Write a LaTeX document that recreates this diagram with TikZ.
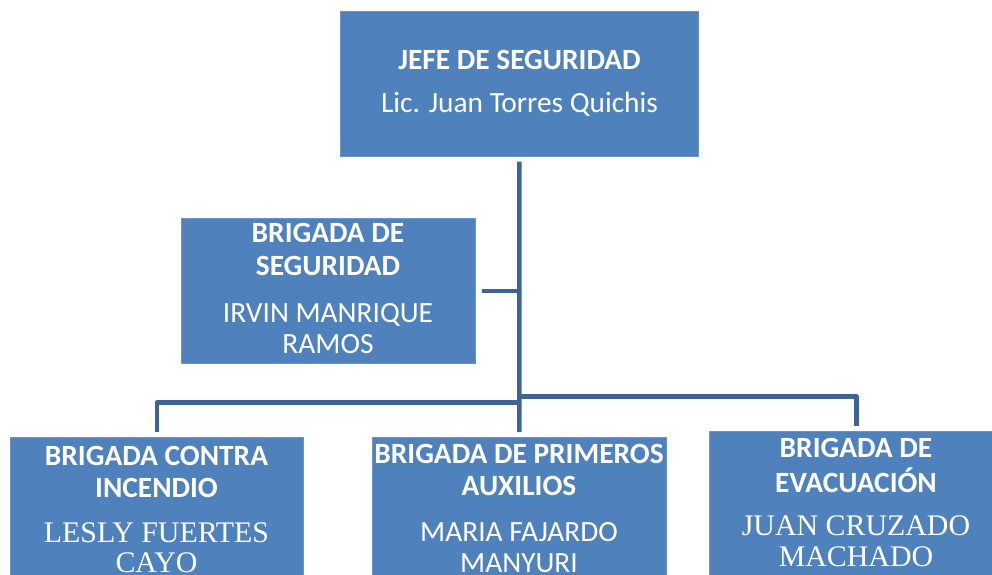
\documentclass[tikz,border=0pt]{standalone}
\usepackage{fontspec}
\setmainfont{Carlito}
\newfontfamily\timesf{Liberation Serif}
\definecolor{boxblue}{HTML}{4F81BD}
\definecolor{linkblue}{RGB}{62,100,150}
\begin{document}
\begin{tikzpicture}[x=1bp,y=-1bp,
  box/.style={draw=boxblue!85!white, line width=0.6bp, fill=boxblue, rectangle, inner sep=0, anchor=north west},
  conn/.style={draw=linkblue, line width=4.5bp, line join=round},
  tb/.style={text=white, font=\fontsize{29.5}{33}\selectfont\bfseries, anchor=base, inner sep=0},
  tr/.style={text=white, font=\fontsize{29.5}{33}\selectfont, anchor=base, inner sep=0},
  ts/.style={text=white, font=\timesf\fontsize{30}{33}\selectfont, anchor=base, inner sep=0}]
\useasboundingbox (0,0) rectangle (992,575);
\clip (0,0) rectangle (992,575);
% boxes
\node[box, minimum width=358bp, minimum height=145bp] (top) at (340,11) {};
\node[box, minimum width=294bp, minimum height=145bp] (mid) at (181,218) {};
\node[box, minimum width=293bp, minimum height=145bp] (b1) at (10,437) {};
\node[box, minimum width=294bp, minimum height=145bp] (b2) at (372,437) {};
\node[box, minimum width=294bp, minimum height=145bp] (b3) at (709,431) {};
% junction coordinates
\coordinate (busL) at (519.5,402.7);
\coordinate (busR) at (519.5,396.5);
% connectors
\draw[conn, shorten <=5bp, shorten >=5bp] (top.south) -- (b2.north);
\draw[conn, shorten <=6bp] (mid.east) -- (mid.east -| top.south);
\draw[conn, shorten <=5bp] (b1.north) |- (busL);
\draw[conn, shorten <=5bp] (b3.north) |- (busR);
% texts
\node[tb] (t1) at (519.5,70) {JEFE DE SEGURIDAD};
\node[tr] (t2) at (519.5,113) {Lic. Juan Torres Quichis};
\node[tb] (m1) at (328,243) {BRIGADA DE};
\node[tb] (m2) at (328,276) {SEGURIDAD};
\node[tr] (m3) at (328,322) {IRVIN MANRIQUE};
\node[tr] (m4) at (328,353) {RAMOS};
\node[tb] (a1) at (156.5,465) {BRIGADA CONTRA};
\node[tb] (a2) at (156.5,497) {INCENDIO};
\node[ts] (a3) at (156.5,542) {LESLY FUERTES};
\node[ts] (a4) at (156.5,572) {CAYO};
\node[tb] (c1) at (519,463) {BRIGADA DE PRIMEROS};
\node[tb] (c2) at (519,495) {AUXILIOS};
\node[tr] (c3) at (519,541) {MARIA FAJARDO};
\node[tr] (c4) at (519,572) {MANYURI};
\node[tb] (e1) at (856,457) {BRIGADA DE};
\node[tb] (e2) at (856,492) {EVACUACIÓN};
\node[ts] (e3) at (856,535) {JUAN CRUZADO};
\node[ts] (e4) at (856,566) {MACHADO};
\end{tikzpicture}
\end{document}
